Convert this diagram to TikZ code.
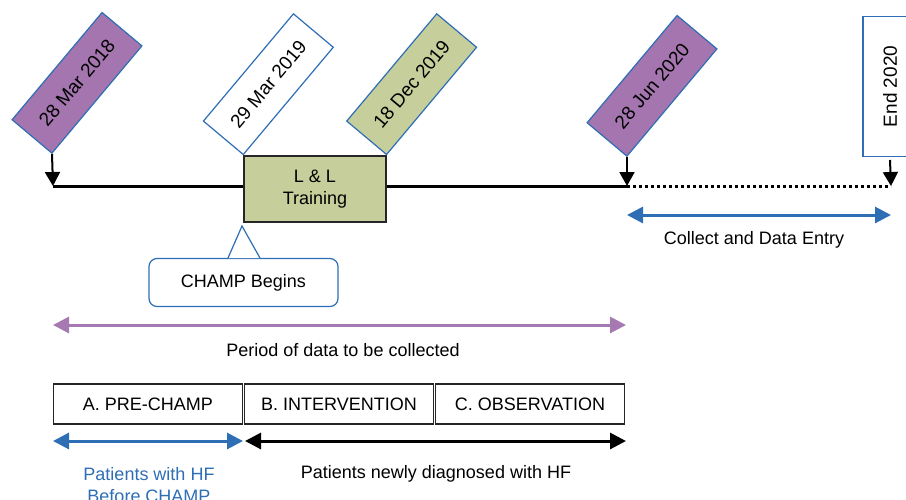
\documentclass[tikz,border=0pt]{standalone}
\usepackage{fontspec}
\setmainfont{Liberation Sans}
\usetikzlibrary{arrows.meta,positioning}

\definecolor{datepurple}{RGB}{164,117,174}
\definecolor{llgreen}{RGB}{198,206,156}
\definecolor{edgeblue}{RGB}{46,110,180}
\definecolor{arrowpurple}{RGB}{166,121,178}

\tikzset{
  datebox/.style={draw=edgeblue, line width=1.2pt, rotate=50, anchor=south west,
    minimum width=140pt, minimum height=52pt, inner sep=0pt,
    font=\fontsize{19}{22}\selectfont},
  phasebox/.style={draw=black!85, line width=1.3pt, minimum width=189pt,
    minimum height=40pt, inner sep=0pt, outer sep=0pt},
  tick/.style={line width=2pt, -{Triangle[length=14pt,width=15pt]}},
  span/.style={line width=3pt, {Triangle[length=16pt,width=16pt]}-{Triangle[length=16pt,width=16pt]}},
}

\begin{document}
\begin{tikzpicture}[x=1pt, y=-1pt, font=\fontsize{18}{22}\selectfont]
\useasboundingbox (0,0) rectangle (906,499);
\clip (0,0) rectangle (906,499);

%----------------------------
% Timeline
%----------------------------
\coordinate (t0) at (53,186);
\coordinate (t4) at (627,186);
\coordinate (t5) at (891,186);

\node[draw=black!85, line width=1.3pt, fill=llgreen, minimum width=142pt,
  minimum height=66pt, align=center] (ll) at (315,189) {L \& L\\Training};

\draw[line width=3pt] (t0) -- (ll.west |- t0);
\draw[line width=3pt] (ll.east |- t4) -- (t4);
\draw[line width=3pt, dash pattern=on 3pt off 3pt] (t4) -- (t5);

%----------------------------
% Dates
%----------------------------
\node[datebox, fill=datepurple] (d1) at (52,154) {28 Mar 2018};
\node[datebox, fill=white] (d2) at (ll.north west) {29 Mar 2019};
\node[datebox, fill=llgreen] (d3) at (ll.north east) {18 Dec 2019};
\node[datebox, fill=datepurple] (d4) at (627,157) {28 Jun 2020};
\node[datebox, rotate=-50, rotate=90, anchor=west, minimum width=140pt,
  minimum height=54pt] (d5) at (890,157) {End 2020};

\draw[tick] (d1.south west) -- (t0);
\draw[tick] (d4.south west) -- (t4);
\draw[tick] (d5.west) ++(0,3) -- (t5);

%----------------------------
% Callout: CHAMP Begins
%----------------------------
\node[draw=edgeblue, line width=1.2pt, rounded corners=8pt, minimum width=189pt,
  minimum height=48pt] (cb) at (243.5,282.5) {CHAMP Begins};
\coordinate (cl) at (228,258);
\coordinate (cr) at (260,258);
\coordinate (ct) at (242,226);
\fill[white] (cl) -- (ct) -- (cr) -- cycle;
\draw[edgeblue, line width=1.2pt] (cl) -- (ct) -- (cr);

%----------------------------
% Collection period
%----------------------------
\coordinate (c0) at (627,215);
\coordinate (c1) at (891,215);
\draw[span, edgeblue] (c0) -- (c1);
\node (clab) at (754,240) {Collect and Data Entry};

\coordinate (p0) at (53,325);
\coordinate (p1) at (626,325);
\draw[span, arrowpurple] (p0) -- (p1);
\node (plab) at (343,350) {Period of data to be collected};

%----------------------------
% Phases
%----------------------------
\node[phasebox] (pa) at (148,404) {A. PRE-CHAMP};
\node[phasebox, right=2pt of pa] (pb) {B. INTERVENTION};
\node[phasebox, right=2pt of pb] (pc) {C. OBSERVATION};

\coordinate (a0) at (53,441);
\coordinate (a1) at (243,441);
\coordinate (b0) at (245,441);
\coordinate (b1) at (626,441);
\draw[span, edgeblue] (a0) -- (a1);
\draw[span] (b0) -- (b1);

\node[text=edgeblue, align=center] (alab) at (149,485) {Patients with HF\\Before CHAMP};
\node (blab) at (436,474) {Patients newly diagnosed with HF};

\end{tikzpicture}
\end{document}
